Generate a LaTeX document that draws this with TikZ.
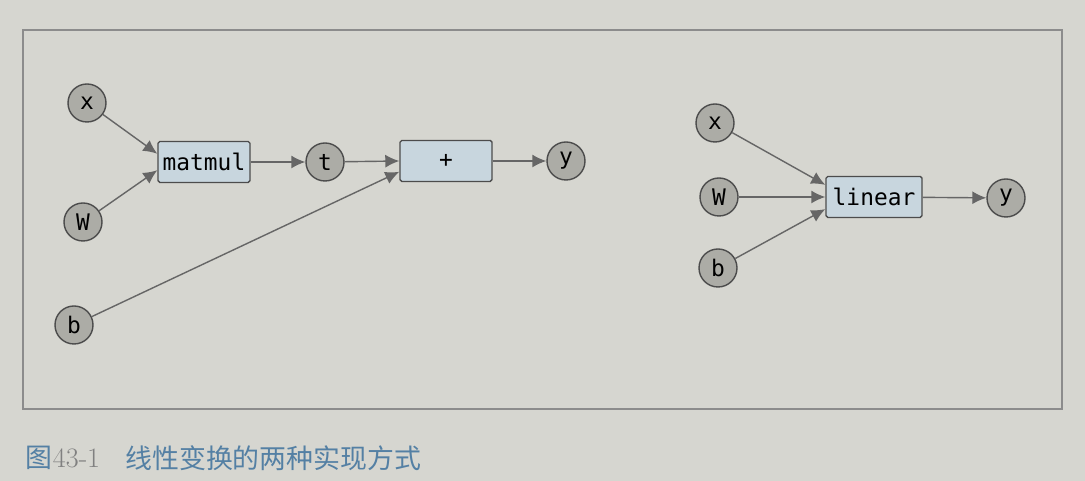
\documentclass[tikz,border=0pt]{standalone}
\usepackage{xcolor}
\usepackage{fontspec}
\setmonofont{DejaVu Sans Mono}
\newfontfamily\cjk{Noto Sans CJK SC}
\usepackage{tikz}
\usetikzlibrary{positioning, arrows.meta}

\definecolor{paper}{RGB}{214,214,208}
\definecolor{varfill}{RGB}{172,172,166}
\definecolor{opfill}{RGB}{200,214,222}
\definecolor{capblue}{RGB}{84,128,164}

\begin{document}
\begin{tikzpicture}
    [
      >={Latex[length=2.8mm, width=2.6mm]},
      Var/.style={circle, draw=black!70, fill=varfill, thick, minimum size=7.6mm, inner sep=0pt, font=\ttfamily\fontsize{13}{13}\selectfont},
      Op/.style={rectangle, draw=black!70, fill=opfill, thick, rounded corners=1pt, minimum width=18.4mm, minimum height=8.2mm, inner sep=0pt, font=\ttfamily\fontsize{13}{13}\selectfont},
      Edge/.style={->, draw=black!60, thick},
    ]

    % Page
    \fill[paper] (0, 0) rectangle (21.7, 9.62);
    \useasboundingbox (0, 0) rectangle (21.7, 9.62);
    \draw[black!45, thick] (0.46, 1.44) rectangle (21.24, 9.02);

    % Nodes (matmul then add)
    \node[Var] (x1) at (1.74, 7.56) {x};
    \node[Var] (W1) at (1.66, 5.18) {W};
    \node[Var] (b1) at (1.48, 3.12) {b};
    \node[Op] (matmul) at (4.08, 6.38) {matmul};
    \node[Var] (t) at (6.50, 6.38) {t};
    \node[Op] (plus) at (8.92, 6.40) {+};
    \node[Var] (y1) at (11.32, 6.40) {y};

    % Nodes (linear)
    \node[Var] (x2) at (14.30, 7.16) {x};
    \node[Var] (W2) at (14.38, 5.68) {W};
    \node[Var] (b2) at (14.36, 4.26) {b};
    \node[Op, minimum width=19.2mm] (linear) at (17.48, 5.68) {linear};
    \node[Var] (y2) at (20.12, 5.66) {y};

    % Caption
    \node[anchor=west, inner sep=0pt, text=capblue, font=\cjk\fontsize{15.3}{16}\selectfont] (fig) at (0.50, 0.46) {图};
    \node[anchor=west, inner sep=0pt, text=black!50, font=\fontsize{16}{16}\selectfont, right=0pt of fig] (num) {43-1};
    \node[anchor=west, inner sep=0pt, text=capblue, font=\cjk\fontsize{15.3}{16}\selectfont] (cap) at (2.50, 0.46) {线性变换的两种实现方式};

    % Lines
      \path [Edge] (x1) -- (matmul.170);
      \path [Edge] (W1) -- (matmul.190);
      \path [Edge] (matmul) -- (t);
      \path [Edge] (t) -- (plus.west);
      \path [Edge] (b1) -- (plus.193);
      \path [Edge] (plus) -- (y1);

      \path [Edge] (x2) -- (linear.166);
      \path [Edge] (W2) -- (linear.west);
      \path [Edge] (b2) -- (linear.194);
      \path [Edge] (linear) -- (y2);

  \end{tikzpicture}
\end{document}
